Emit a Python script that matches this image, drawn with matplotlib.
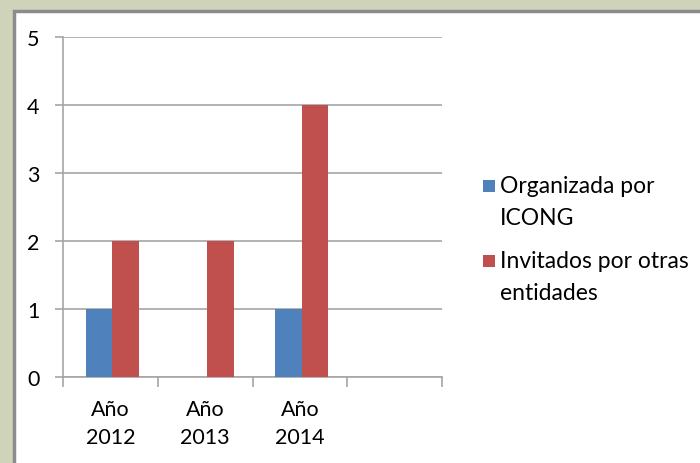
import matplotlib
matplotlib.use("Agg")
import matplotlib.pyplot as plt
import matplotlib.patches as mpatches
import numpy as np

categories = ["Año\n2012", "Año\n2013", "Año\n2014", ""]
organizada = [1, 0, 1, 0]
invitados = [2, 2, 4, 0]
series_labels = ["Organizada por\nICONG", "Invitados por otras\nentidades"]
colors = ["#4F81BD", "#C0504D"]

plt.rcParams['font.family'] = ['Lato', 'DejaVu Sans']

fig = plt.figure(figsize=(7, 4.64), dpi=100, facecolor="#CED3B9")

# white chart panel with grey frame
panel = mpatches.Rectangle((14.5 / 700, -0.05), 1.1, 1 - 11.5 / 464 + 0.05,
                           transform=fig.transFigure, facecolor="white",
                           edgecolor="#8C8C8C", linewidth=2.5, zorder=-5)
fig.patches.append(panel)

ax = fig.add_axes([63 / 700, 1 - 378 / 464, (442 - 63) / 700, (378 - 38) / 464])
ax.set_facecolor("none")

x = np.arange(len(categories))
w = 0.28
ax.bar(x - w / 2 + 0.02, organizada, w, color=colors[0], zorder=3)
ax.bar(x + w / 2 + 0.02, invitados, w, color=colors[1], zorder=3)

ax.set_xlim(-0.5, len(categories) - 0.5)
ax.set_ylim(0, 5)
ax.set_yticks(range(6))
ax.yaxis.grid(True, color="#A6A6A6", linewidth=1.2, zorder=0)

ax.set_xticks(x)
ax.set_xticklabels(categories, fontsize=15.5, linespacing=1.5)
ax.set_xticks(np.arange(len(categories) + 1) - 0.5, minor=True)
ax.tick_params(axis="x", which="major", length=0, pad=16)
ax.tick_params(axis="x", which="minor", length=7, color="#A6A6A6", width=1.2)
ax.tick_params(axis="y", length=6, color="#A6A6A6", width=1.2, labelsize=15.5, pad=11)

for s in ["top", "right"]:
    ax.spines[s].set_visible(False)
for s in ["left", "bottom"]:
    ax.spines[s].set_color("#A6A6A6")
    ax.spines[s].set_linewidth(1.2)

# legend drawn by hand so the square sits on the first text line
legend_y = [187, 262]
for lab, col, yy in zip(series_labels, colors, legend_y):
    fig.patches.append(mpatches.Rectangle((483 / 700, 1 - (yy + 6) / 464), 12 / 700, 12 / 464,
                                          transform=fig.transFigure, facecolor=col,
                                          edgecolor="none"))
    fig.text(500 / 700, 1 - (yy - 11) / 464, lab, fontsize=16.5, va="top", ha="left",
             linespacing=1.65)

fig.savefig("out.png", dpi=100, facecolor=fig.get_facecolor())
